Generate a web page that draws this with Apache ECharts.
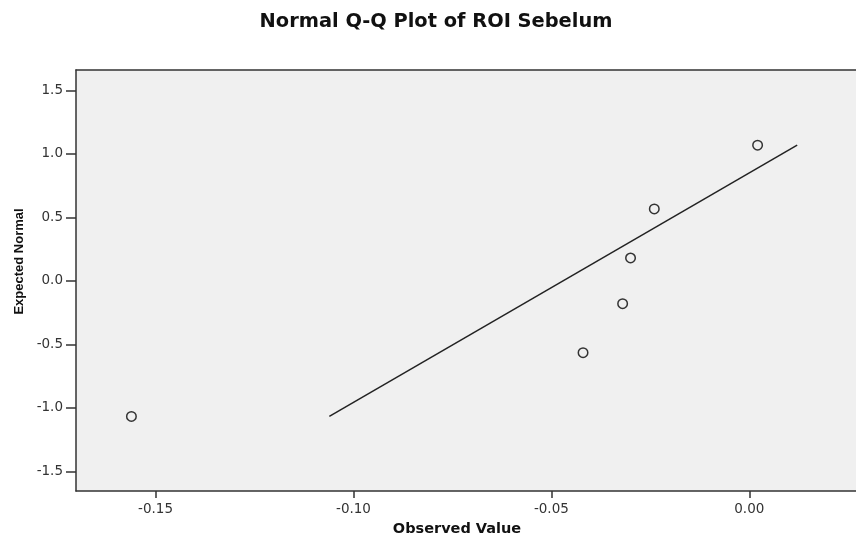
<!DOCTYPE html>
<html>
<head>
<meta charset="utf-8">
<script src="https://cdn.jsdelivr.net/npm/echarts@6/dist/echarts.min.js"></script>
<style>html,body{margin:0;padding:0;background:#fff;}#c{width:856px;height:542px;}</style>
</head>
<body>
<div id="c"></div>
<script>
// Observed values and expected normal values
var observed = [-0.1561, -0.0420, -0.0320, -0.0300, -0.0240, 0.0021];
var expected = [-1.068, -0.566, -0.180, 0.180, 0.566, 1.068];
// reference line endpoints
var lineObserved = [-0.1061, 0.0121];
var lineExpected = [-1.068, 1.068];
// tick labels
var xTicks = [-0.15, -0.10, -0.05, 0.00];
var yTicks = [-1.5, -1.0, -0.5, 0.0, 0.5, 1.0, 1.5];

var chart = echarts.init(document.getElementById('c'));
var font = '"DejaVu Sans", Verdana, sans-serif';
var arial = '"Liberation Sans", Arial, sans-serif';
chart.setOption({
  animation: false,
  backgroundColor: '#ffffff',
  title: {
    text: 'Normal Q-Q Plot of ROI Sebelum',
    left: 431,
    textAlign: 'center',
    top: 7,
    textStyle: {fontFamily: font, fontSize: 19.4, fontWeight: 'bold', color: '#111'}
  },
  grid: {
    left: 76, top: 70, right: 0, bottom: 51,
    show: true, backgroundColor: '#f0f0f0', borderWidth: 0
  },
  xAxis: [{
    type: 'value', min: -0.1701, max: 0.02696,
    name: 'Observed Value', nameLocation: 'middle', nameGap: 31,
    nameTextStyle: {fontFamily: font, fontSize: 14.5, fontWeight: 'bold', color: '#111', padding: [0, 18, 0, 0]},
    splitLine: {show: false},
    axisLine: {show: true, onZero: false, lineStyle: {color: '#333', width: 1.5}},
    axisTick: {show: true, length: 7, lineStyle: {color: '#333', width: 1.5}, customValues: xTicks},
    axisLabel: {fontFamily: font, fontSize: 13.5, color: '#333', margin: 11,
      customValues: xTicks, formatter: function(v){ return v.toFixed(2); }}
  }, {
    type: 'value', position: 'top', min: -0.1701, max: 0.02696,
    splitLine: {show: false},
    axisLine: {show: true, onZero: false, lineStyle: {color: '#333', width: 1.5}},
    axisTick: {show: false}, axisLabel: {show: false}
  }],
  yAxis: {
    type: 'value', min: -1.655, max: 1.66,
    name: 'Expected Normal', nameLocation: 'middle', nameGap: 50,
    nameTextStyle: {fontFamily: arial, fontSize: 13, fontWeight: 'bold', color: '#111', padding: [0, 0, 0, 38]},
    splitLine: {show: false},
    axisLine: {show: true, onZero: false, lineStyle: {color: '#333', width: 1.5}},
    axisTick: {show: true, length: 10, lineStyle: {color: '#333', width: 1.5}, customValues: yTicks},
    axisLabel: {fontFamily: font, fontSize: 13.5, color: '#333', margin: 13,
      customValues: yTicks, formatter: function(v){ return v.toFixed(1); }}
  },
  series: [{
    type: 'line',
    data: lineObserved.map(function(x, i){ return [x, lineExpected[i]]; }),
    symbol: 'none',
    lineStyle: {color: '#222', width: 1.5},
    z: 2
  }, {
    type: 'scatter',
    data: observed.map(function(x, i){ return [x, expected[i]]; }),
    symbol: 'circle', symbolSize: 9.5,
    itemStyle: {color: '#f0f0f0', borderColor: '#333', borderWidth: 1.5, opacity: 1},
    z: 3
  }]
});
</script>
</body>
</html>
